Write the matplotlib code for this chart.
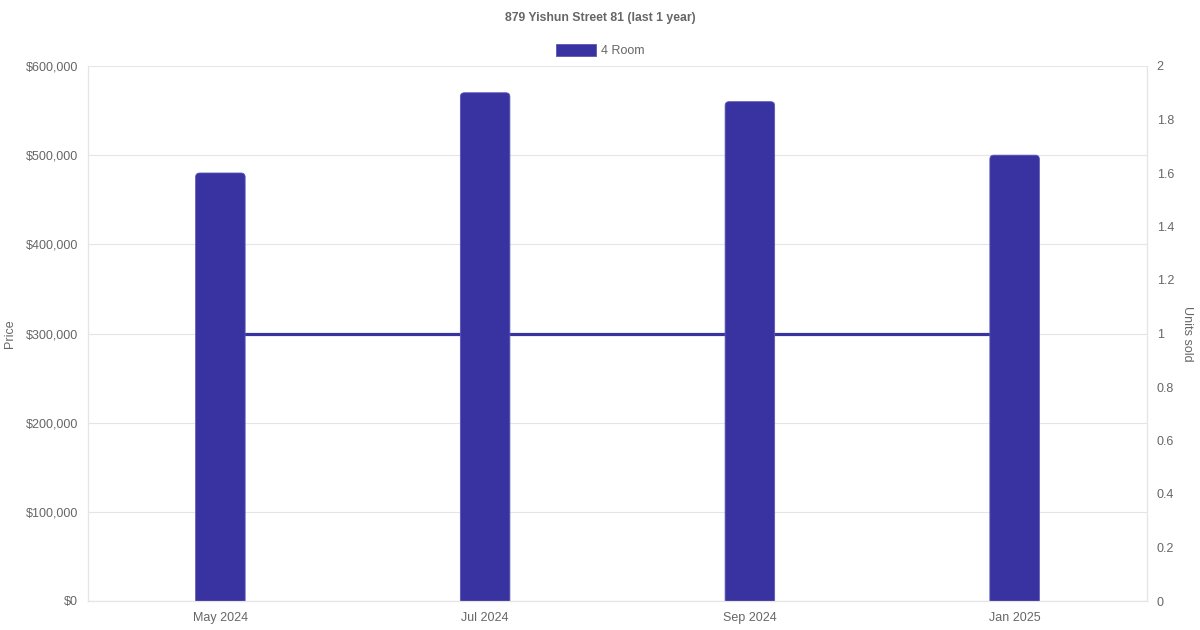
import matplotlib.pyplot as plt
from matplotlib.patches import FancyBboxPatch, Rectangle
from matplotlib.ticker import FuncFormatter

plt.rcParams['font.family'] = ['Liberation Sans', 'DejaVu Sans']

# Data
months = ["May 2024", "Jul 2024", "Sep 2024", "Jan 2025"]
prices = [480000, 570000, 560000, 500000]
units_sold = [1, 1, 1, 1]

bar_color = "#3833a0"
text_color = "#666666"
grid_color = "#e5e5e5"

fig = plt.figure(figsize=(12, 6.3), dpi=100)
ax = fig.add_axes([88 / 1200, 29 / 630, 1059 / 1200, 535 / 630])
ax2 = ax.twinx()

ax.set_xlim(-0.5, len(months) - 0.5)
ax.set_ylim(0, 600000)
ax2.set_ylim(0, 2)

# Units sold line (drawn inside ax so bars sit on top of it)
x = list(range(len(months)))
ax.plot(x, units_sold, color=bar_color, lw=2.3, zorder=1,
        transform=ax2.transData, solid_capstyle="butt")

# Bars with rounded tops
bar_w = 0.187
px_x = 1059 / 4          # pixels per x unit
px_y = 535 / 600000      # pixels per y unit
radius = 4 / px_x
aspect = px_x / px_y
for i, p in enumerate(prices):
    patch = FancyBboxPatch((i - bar_w / 2, -20000), bar_w, p + 20000,
                           boxstyle=f"round,pad=0,rounding_size={radius}",
                           mutation_aspect=aspect,
                           facecolor=bar_color, edgecolor="#5a56b8",
                           lw=0.6, zorder=2)
    ax.add_patch(patch)

# Axes styling
ax.set_xticks(x)
ax.set_xticklabels(months)
ax.set_yticks(range(0, 600001, 100000))
ax.yaxis.set_major_formatter(FuncFormatter(lambda v, _: f"${int(v):,}"))
ax2.set_yticks([i / 5 for i in range(11)])
ax2.yaxis.set_major_formatter(FuncFormatter(lambda v, _: f"{v:g}"))

ax.grid(axis="y", color=grid_color, lw=0.8)
ax.set_axisbelow(True)

for a in (ax, ax2):
    a.tick_params(length=0, labelsize=9, colors=text_color, pad=7)
    for s in a.spines.values():
        s.set_color(grid_color)
        s.set_linewidth(0.8)
    a.spines["top"].set_visible(False)
ax.spines["bottom"].set_color("#cccccc")
ax.tick_params(axis="x", pad=8)

ax.set_ylabel("Price", color=text_color, fontsize=9, va="center")
ax.yaxis.set_label_coords(-0.0737, 0.5)
ax2.set_ylabel("Units sold", color=text_color, fontsize=9, rotation=270, va="center")
ax2.yaxis.set_label_coords(1.0375, 0.5)

# Title and legend
fig.text(0.5, 1 - 18 / 630, "879 Yishun Street 81 (last 1 year)", ha="center",
         va="center", fontsize=8.8, fontweight="bold", color=text_color)
fig.patches.append(Rectangle((556 / 1200, 1 - 56 / 630), 40 / 1200, 12 / 630,
                             transform=fig.transFigure, facecolor=bar_color,
                             edgecolor="#5a56b8", lw=0.6))
fig.text(601 / 1200, 1 - 51 / 630, "4 Room", ha="left", va="center",
         fontsize=9, color=text_color)

fig.savefig("out.png", dpi=100, facecolor="white")
